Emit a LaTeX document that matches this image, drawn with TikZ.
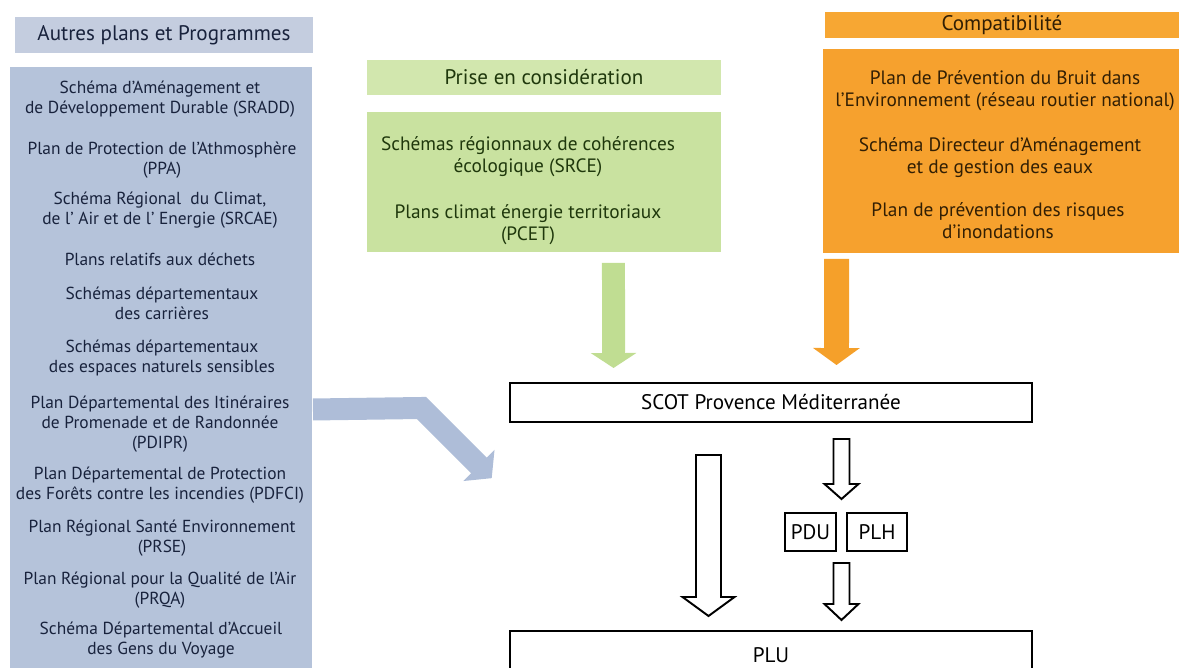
\documentclass[tikz,border=0pt]{standalone}
\usepackage{fontspec}
\setmainfont{PT Sans}
\usetikzlibrary{arrows.meta,calc}

\definecolor{bluehd}{HTML}{C4CDDF}
\definecolor{bluebx}{HTML}{B5C3DA}
\definecolor{bluear}{HTML}{AEBDD8}
\definecolor{bluetx}{HTML}{18223C}
\definecolor{grnhd}{HTML}{D2E7AE}
\definecolor{grnbx}{HTML}{C9E2A0}
\definecolor{grnar}{HTML}{C0DD92}
\definecolor{grntx}{HTML}{1F380C}
\definecolor{orghd}{HTML}{F7A733}
\definecolor{orgbx}{HTML}{F6A12E}
\definecolor{orgar}{HTML}{F5A02A}
\definecolor{orgtx}{HTML}{321F04}

\begin{document}
\begin{tikzpicture}[
      x=0.02cm, y=-0.02cm,
      every node/.style={inner sep=0pt, outer sep=0pt},
      band/.style={rectangle, align=center},
      head/.style={font=\fontsize{12}{14}\selectfont},
      item/.style={align=center, font=\fontsize{11}{12.6}\selectfont},
      smallitem/.style={align=center, font=\fontsize{9.9}{11.5}\selectfont},
      plain/.style={rectangle, draw=black, line width=1.1pt, fill=white, font=\fontsize{12}{14}\selectfont},
      hollowarrow/.style={draw=black, line width=1.1pt, fill=white, line join=miter},
      fatarrow/.style={line join=miter}]
        \useasboundingbox (0,0) rectangle (1181,668);

        % colour bands
        \node[band, fill=bluehd, minimum width=5.96cm, minimum height=0.72cm, head, text=bluetx]
          (othershead) at (164,35) {Autres plans et Programmes};
        \node[band, fill=bluebx, minimum width=6.04cm, minimum height=12.1cm]
          (othersbox) at (161,369) {};

        \node[band, fill=grnhd, minimum width=7.08cm, minimum height=0.7cm, head, text=grntx]
          (grnhead) at (544,77.5) {Prise en considération};
        \node[band, fill=grnbx, minimum width=7.08cm, minimum height=2.8cm]
          (grnbox) at (544,182) {};

        \node[band, fill=orghd, minimum width=7.08cm, minimum height=0.52cm, head, text=orgtx]
          (orghead) at (1002,25) {Compatibilité};
        \node[band, fill=orgbx, minimum width=7.12cm, minimum height=4.08cm]
          (orgbox) at (1001,151) {};

        % autres plans
        {\color{bluetx}
        \node[smallitem] (sradd) at (160,99) {Schéma d’Aménagement et\\de Développement Durable (SRADD)};
        \node[smallitem] (ppa) at (162,160) {Plan de Protection de l’Athmosphère\\(PPA)};
        \node[smallitem] (srcae) at (160,210) {Schéma Régional~ du Climat,\\de l’ Air et de l’ Energie (SRCAE)};
        \node[smallitem] (dechets) at (160,259) {Plans relatifs aux déchets};
        \node[smallitem] (carrieres) at (162,303.5) {Schémas départementaux\\des carrières};
        \node[smallitem] (ens) at (162,358) {Schémas départementaux\\des espaces naturels sensibles};
        \node[smallitem] (pdipr) at (160,424) {Plan Départemental des Itinéraires\\de Promenade et de Randonnée\\(PDIPR)};
        \node[smallitem] (pdfci) at (160,485.5) {Plan Départemental de Protection\\des Forêts contre les incendies (PDFCI)};
        \node[smallitem] (prse) at (162,538) {Plan Régional Santé Environnement\\(PRSE)};
        \node[smallitem] (prqa) at (160,590) {Plan Régional pour la Qualité de l’Air\\(PRQA)};
        \node[smallitem] (gdv) at (161,640) {Schéma Départemental d’Accueil\\des Gens du Voyage};
        }

        % prise en consideration
        {\color{grntx}
        \node[item] (srce) at (528,157) {Schémas régionnaux de cohérences\\écologique (SRCE)};
        \node[item] (pcet) at (528,225) {Plans climat énergie territoriaux\\(PCET)};
        }

        % compatibilite
        {\color{orgtx}
        \node[item] (ppbe) at (1005,91) {Plan de Prévention du Bruit dans\\l’Environnement (réseau routier national)};
        \node[item] (sdage) at (1000,158) {Schéma Directeur d’Aménagement\\et de gestion des eaux};
        \node[item] (ppri) at (998,221) {Plan de prévention des risques\\d’inondations};
        }

        % documents
        \node[plain, minimum width=10.44cm, minimum height=0.78cm] (scot) at (771,402.5) {SCOT Provence Méditerranée};
        \node[plain, minimum width=1.02cm, minimum height=0.76cm] (pdu) at (810.5,532) {PDU};
        \node[plain, minimum width=1.2cm, minimum height=0.76cm] (plh) at (877,532) {PLH};
        \node[plain, minimum width=10.44cm, minimum height=0.96cm] (plu) at (771,655) {PLU};

        % fleches pleines
        \draw[fatarrow, grnar, line width=0.46cm, -{Triangle[width=0.9cm, length=0.3cm]}]
          ([xshift=1.39cm, yshift=-0.22cm]grnbox.south) -- ([xshift=-3.15cm, yshift=0.3cm]scot.north);
        \draw[fatarrow, orgar, line width=0.5cm, -{Triangle[width=0.92cm, length=0.34cm]}]
          ([xshift=-3.29cm, yshift=-0.12cm]orgbox.south) -- ([xshift=1.31cm, yshift=0.36cm]scot.north);

        \coordinate (bend) at (421.5,408);
        \coordinate (graytip) at (491.7,478.2);
        \draw[fatarrow, bluear, line width=0.44cm, -{Triangle[width=0.86cm, length=0.36cm]}]
          ([xshift=0.02cm, yshift=-0.81cm]othersbox.east) -- (bend) -- (graytip);

        % fleches creuses
        \coordinate (bigtop) at ([xshift=-1.25cm, yshift=-0.66cm]scot.south);
        \coordinate (bigtip) at ([xshift=-1.25cm, yshift=0.3cm]plu.north);
        \coordinate (uptop) at ([xshift=1.41cm, yshift=-0.34cm]scot.south);
        \coordinate (uptip) at ($(pdu.north east)!.5!(plh.north west)+(0,-14)$);
        \coordinate (lowtop) at ($(pdu.south east)!.5!(plh.south west)+(0,12)$);
        \coordinate (lowtip) at ([xshift=1.41cm, yshift=0.22cm]plu.north);

        \foreach \s/\t/\w/\h/\l in {bigtop/bigtip/12.5/26/19, uptop/uptip/8/17/15, lowtop/lowtip/8/17/16}
          \draw[hollowarrow] ($(\s)+(-\w,0)$) -- ($(\s)+(\w,0)$) -- ($(\t)+(\w,-\l)$) -- ($(\t)+(\h,-\l)$)
            -- (\t) -- ($(\t)+(-\h,-\l)$) -- ($(\t)+(-\w,-\l)$) -- cycle;

      \end{tikzpicture}
\end{document}
